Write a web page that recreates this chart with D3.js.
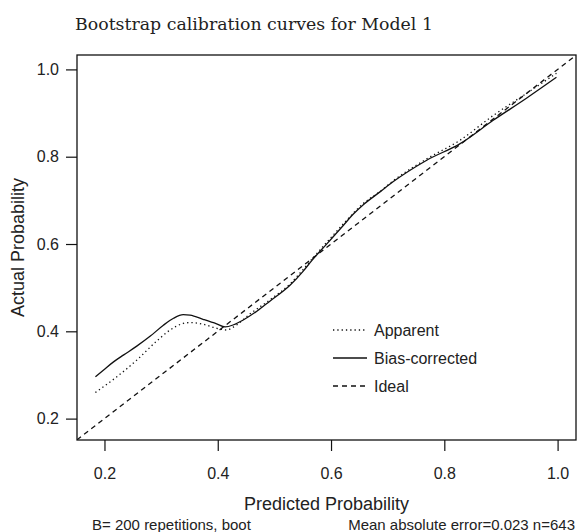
<!DOCTYPE html>
<html><head><meta charset="utf-8">
<script src="https://cdn.jsdelivr.net/npm/d3@7"></script>
<style>body{margin:0;background:#fff}svg{display:block}</style>
</head><body>
<script>
const title = "Bootstrap calibration curves for Model 1";
const xTicks = [0.2, 0.4, 0.6, 0.8, 1.0];
const yTicks = [0.2, 0.4, 0.6, 0.8, 1.0];
const apparentX = [0.184,0.216,0.257,0.2925,0.316,0.339,0.351,0.375,0.398,0.416,0.428,0.457,0.492,0.528,0.551,0.566,0.598,0.628,0.657,0.687,0.710,0.769,0.828,0.887,0.945,0.998];
const apparentY = [0.260,0.290,0.334,0.378,0.403,0.418,0.420,0.416,0.407,0.403,0.410,0.440,0.472,0.509,0.542,0.565,0.612,0.655,0.693,0.721,0.745,0.795,0.838,0.895,0.945,0.991];
const biasX = [0.184,0.198,0.216,0.234,0.257,0.281,0.304,0.322,0.339,0.351,0.375,0.398,0.413,0.428,0.445,0.469,0.492,0.528,0.551,0.566,0.593,0.622,0.639,0.657,0.687,0.710,0.769,0.828,0.887,0.945,0.998];
const biasY = [0.296,0.311,0.330,0.346,0.366,0.389,0.414,0.430,0.438,0.437,0.427,0.417,0.410,0.415,0.426,0.446,0.469,0.506,0.538,0.562,0.601,0.643,0.668,0.690,0.720,0.743,0.792,0.830,0.884,0.934,0.982];
const legendLabels = ["Apparent", "Bias-corrected", "Ideal"];
const xLabel = "Predicted Probability", yLabel = "Actual Probability";
const footLeft = "B= 200 repetitions, boot";
const footRight = "Mean absolute error=0.023 n=643";
const domain = [0.1515, 1.0325];

const W = 577, H = 532;
const L = 77, R = 576, T = 55, B = 440;
const svg = d3.select("body").append("svg").attr("width", W).attr("height", H);
const x = d3.scaleLinear().domain(domain).range([L, R]);
const y = d3.scaleLinear().domain([0.151, 1.033]).range([B, T]);
const sans = "Liberation Sans, Arial, sans-serif";
const ink = "#111";

svg.append("defs").append("clipPath").attr("id","clip")
  .append("rect").attr("x",L).attr("y",T).attr("width",R-L).attr("height",B-T);

// Title
const tt = svg.append("text").attr("x", 254).attr("y", 30).attr("text-anchor","middle")
  .attr("font-family","DejaVu Serif, serif").attr("font-size",17).attr("fill","#222").text(title);
const tw = tt.node().getComputedTextLength();
tt.attr("font-size", 17 * 358 / tw);

// Axes
const xa = svg.append("g").attr("transform",`translate(0,${B})`)
  .call(d3.axisBottom(x).tickValues(xTicks).tickFormat(d3.format(".1f")).tickSize(11).tickPadding(17));
const ya = svg.append("g").attr("transform",`translate(${L},0)`)
  .call(d3.axisLeft(y).tickValues(yTicks).tickFormat(d3.format(".1f")).tickSize(11).tickPadding(7));
[xa, ya].forEach(g => {
  g.select(".domain").remove();
  g.selectAll("line").attr("stroke", ink).attr("stroke-width", 1.2);
  g.selectAll("text").attr("font-family", sans).attr("font-size", 16).attr("fill","#222");
});
xa.selectAll("text").attr("dy", "0.71em");

// Box
svg.append("rect").attr("x",L).attr("y",T).attr("width",R-L).attr("height",B-T)
  .attr("fill","none").attr("stroke",ink).attr("stroke-width",1.3);

const plot = svg.append("g").attr("clip-path","url(#clip)");
// Ideal
plot.append("line").attr("x1",x(domain[0])).attr("y1",y(domain[0])).attr("x2",x(domain[1])).attr("y2",y(domain[1]))
  .attr("stroke",ink).attr("stroke-width",1.3).attr("stroke-dasharray","5,4");

const line = d3.line().x(d=>x(d[0])).y(d=>y(d[1])).curve(d3.curveMonotoneX);
const app = apparentX.map((v,i)=>[v, apparentY[i]]);
const bias = biasX.map((v,i)=>[v, biasY[i]]);
plot.append("path").attr("d", line(app)).attr("fill","none").attr("stroke",ink).attr("stroke-width",1.3).attr("stroke-dasharray","1.3,3");
plot.append("path").attr("d", line(bias)).attr("fill","none").attr("stroke",ink).attr("stroke-width",1.3);

// Legend
const dashes = ["1.3,3", null, "5,4"];
const ly = [330, 358, 386];
legendLabels.forEach((lab,i)=>{
  svg.append("line").attr("x1",333).attr("x2",367).attr("y1",ly[i]).attr("y2",ly[i])
    .attr("stroke",ink).attr("stroke-width",1.3).attr("stroke-dasharray",dashes[i]);
  svg.append("text").attr("x",374).attr("y",ly[i]+6).attr("font-family",sans).attr("font-size",16).attr("fill","#222").text(lab);
});

// Axis labels
svg.append("text").attr("x",(L+R)/2).attr("y",510).attr("text-anchor","middle")
  .attr("font-family",sans).attr("font-size",18).attr("fill","#222").text(xLabel);
svg.append("text").attr("transform",`translate(24,${(T+B)/2}) rotate(-90)`).attr("text-anchor","middle")
  .attr("font-family",sans).attr("font-size",18).attr("fill","#222").text(yLabel);

// Footer
svg.append("text").attr("x",92).attr("y",530).attr("font-family",sans).attr("font-size",15).attr("fill","#222").text(footLeft);
svg.append("text").attr("x",575).attr("y",530).attr("text-anchor","end").attr("font-family",sans).attr("font-size",15).attr("fill","#222").text(footRight);
</script>
</body></html>
